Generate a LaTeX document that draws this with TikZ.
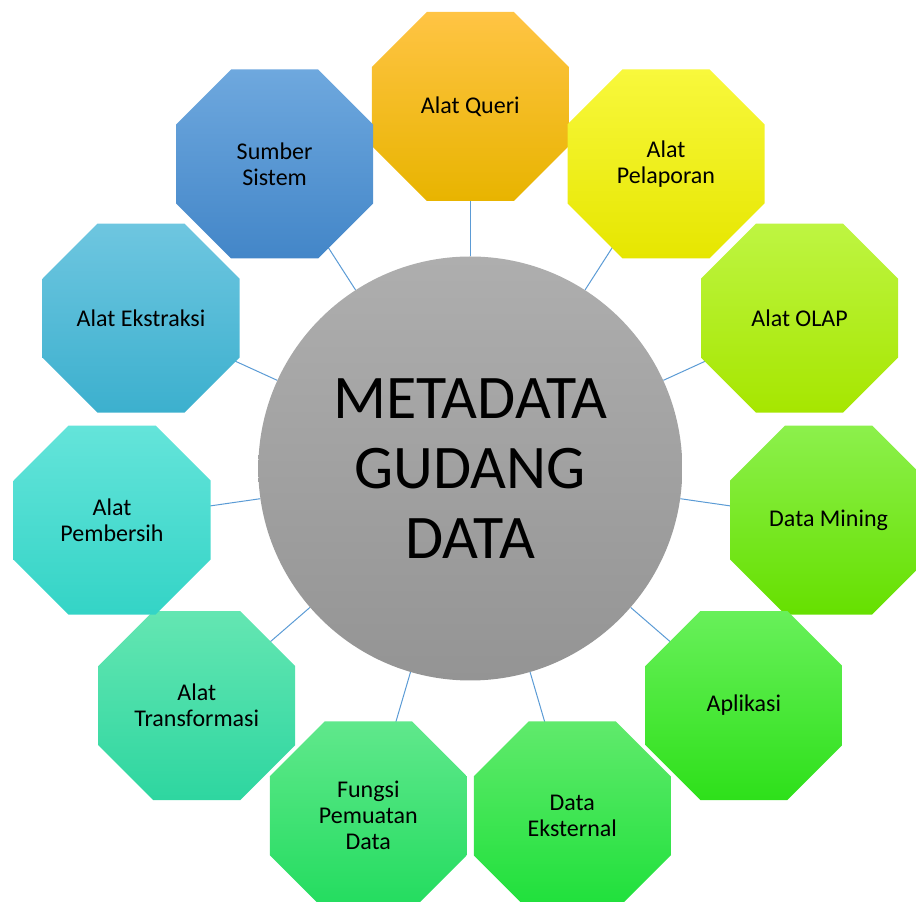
\documentclass[tikz,border=0pt]{standalone}
\usepackage{fontspec}
\setmainfont{Carlito}
\usetikzlibrary{calc}
\pgfdeclarelayer{lines}
\pgfdeclarelayer{shapes}
\pgfsetlayers{lines,shapes,main}
\definecolor{conncol}{HTML}{5B9BD5}
\definecolor{hubtop}{HTML}{AEAEAE}
\definecolor{hubbot}{HTML}{949494}
\newcommand{\octa}[5]{%
  \definecolor{#1top}{HTML}{#3}%
  \definecolor{#1bot}{HTML}{#4}%
  \coordinate (#1c) at ($(C)+(#2:362)$);
  \begin{pgfonlayer}{shapes}
    \path[shift={(#1c)}, top color=#1top, bottom color=#1bot]
      (-43.5,94.5) -- (43.5,94.5) -- (98.5,39.5) -- (98.5,-39.5) --
      (43.5,-94.5) -- (-43.5,-94.5) -- (-98.5,-39.5) -- (-98.5,39.5) -- cycle;
  \end{pgfonlayer}
  \node[lbl] (#1) at (#1c) {#5};
  \begin{pgfonlayer}{lines}
    \draw[conn] (C) -- (#1);
  \end{pgfonlayer}
}
\begin{document}
\begin{tikzpicture}[x=1pt,y=1pt,
  lbl/.style={align=center, inner sep=0pt, text=black, font=\fontsize{24}{26}\selectfont},
  hub/.style={circle, minimum size=424pt, inner sep=0pt, align=center,
    top color=hubtop, bottom color=hubbot, font=\fontsize{62}{70}\selectfont},
  conn/.style={draw=conncol, line width=1pt}]
\useasboundingbox (0,0) rectangle (916,902);
\node[hub] (C) at (470.3,433.5) {METADATA\\GUDANG\\DATA};
\octa{q}{90}{FFC444}{E8B400}{Alat Queri}
\octa{lap}{57.2727}{F8F83C}{E6E600}{Alat\\Pelaporan}
\octa{olap}{24.5455}{BEF542}{A6E600}{Alat OLAP}
\octa{dm}{-8.1818}{8CF04C}{66E000}{Data Mining}
\octa{apl}{-40.9091}{68F05A}{2EE01A}{Aplikasi}
\octa{ext}{-73.6364}{60EA6C}{1EE03A}{Data\\Eksternal}
\octa{fng}{-106.3636}{60E88C}{22DC5E}{Fungsi\\Pemuatan\\Data}
\octa{trf}{-139.0909}{64E6B2}{2ED6A0}{Alat\\Transformasi}
\octa{pbs}{-171.8182}{64E4DA}{34D4C6}{Alat\\Pembersih}
\octa{eks}{-204.5455}{6EC6E0}{3CB0CE}{Alat Ekstraksi}
\octa{smb}{-237.2727}{6EA8DE}{4386C8}{Sumber\\Sistem}
\end{tikzpicture}
\end{document}
